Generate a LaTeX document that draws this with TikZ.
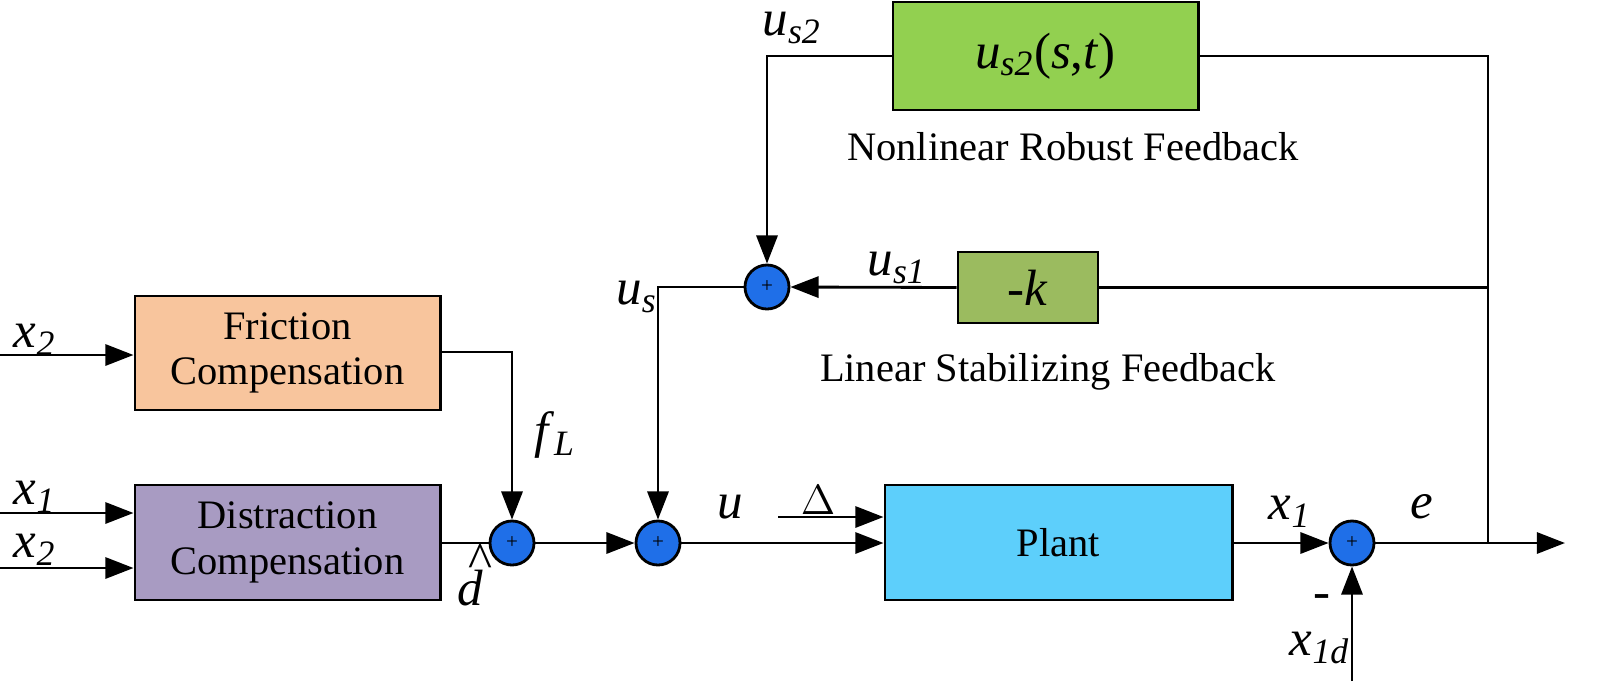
\documentclass[tikz,border=0pt]{standalone}
\usepackage{fontspec}
\setmainfont{Liberation Serif}
\usetikzlibrary{arrows.meta}
\newcommand{\vr}[2]{\textit{#1}\textsubscript{\textit{#2}}}
\begin{document}
\begin{tikzpicture}[x=0.01cm,y=-0.01cm,line width=0.8pt,
  font=\fontsize{11.5}{13}\selectfont,
  blk/.style={draw,minimum width=#1,inner sep=0pt,align=center},
  sumn/.style={circle,draw,fill=sumblue,minimum size=0.44cm,inner sep=0pt,font=\fontsize{6}{6}\selectfont},
  arr/.style={-{Triangle[length=8pt,width=6pt]}},
  lbl/.style={font=\fontsize{14.5}{16}\selectfont}]
\definecolor{sumblue}{HTML}{1F6FE8}
\useasboundingbox (0,0) rectangle (1600,681);
\node[blk=3.05cm,minimum height=1.14cm,fill={rgb,255:red,248;green,197;blue,157}] (fr) at (287.5,353) {Friction\\Compensation};
\node[blk=3.05cm,minimum height=1.15cm,fill={rgb,255:red,168;green,155;blue,194}] (dc) at (287.5,542.5) {Distraction\\Compensation};
\node[blk=3.47cm,minimum height=1.15cm,fill={rgb,255:red,93;green,207;blue,251}] (pl) at (1058.5,542.5) {Plant};
\node[blk=1.4cm,minimum height=0.71cm,fill={rgb,255:red,155;green,187;blue,95},lbl] (k) at (1028,287.5) {-\textit{k}};
\node[blk=3.05cm,minimum height=1.08cm,fill={rgb,255:red,146;green,208;blue,80},lbl] (us2) at (1045.5,56) {\vr{u}{s2}(\textit{s},\textit{t})};
\node[sumn] (s1) at (512,543) {+};
\node[sumn] (s2) at (658,543) {+};
\node[sumn] (s3) at (767,287) {+};
\node[sumn] (s4) at (1352,543) {+};
\coordinate (ri) at (1488,543);
\coordinate (out) at (1565,543);
\coordinate (i1) at (0,355);
\coordinate (i2) at (0,513);
\coordinate (i3) at (0,568);
\coordinate (dl) at (778,517);
\coordinate (xd) at (1352,681);
\draw[arr] (i1) -- (fr.west|-i1);
\draw[arr] (i2) -- (dc.west|-i2);
\draw[arr] (i3) -- (dc.west|-i3);
\draw[arr] (fr.east|-0,352) -| (s1.north);
\draw (dc.east|-s1) -- (s1.west);
\draw[arr] (s1) -- (s2);
\draw[arr] (s2) -- (pl.west|-s2);
\draw[arr] (dl) -- (pl.west|-dl);
\draw[arr] (pl.east|-s4) -- (s4);
\draw[arr] (xd) -- (s4.south);
\draw[arr] (s4) -- (out);
\draw (us2.east) -| (ri);
\draw (k.east) -- (k.east-|ri);
\draw[arr] (us2.west) -| (s3.north);
\draw[arr] (k.west) -- (s3.east);
\draw[arr] (s3.west) -| (s2.north);
\node[lbl] at (792,28) {\vr{u}{s2}};
\node at (1073,147) {Nonlinear Robust Feedback};
\node[lbl] at (897,268) {\vr{u}{s1}};
\node[lbl] at (637,297) {\vr{u}{s}};
\node at (1048,372) {Linear Stabilizing Feedback};
\node[lbl] at (555,435) {\vr{f}{L}};
\node[lbl,inner sep=1pt] (dh) at (470,588) {\textit{d}};
\node[lbl,inner sep=0pt,anchor=south] at ([xshift=3pt,yshift=-4pt]dh.north) {\^{}};
\node[lbl] at (730,507) {\textit{u}};
\node at (818,500) {$\Delta$};
\node[lbl] at (1290,512) {\vr{x}{1}};
\node[lbl] at (1422,507) {\textit{e}};
\node[lbl] at (1322,602) {-};
\node[lbl] at (1320,648) {\vr{x}{1d}};
\node[lbl] at (35,340) {\vr{x}{2}};
\node[lbl] at (35,497) {\vr{x}{1}};
\node[lbl] at (35,550) {\vr{x}{2}};
\end{tikzpicture}
\end{document}
